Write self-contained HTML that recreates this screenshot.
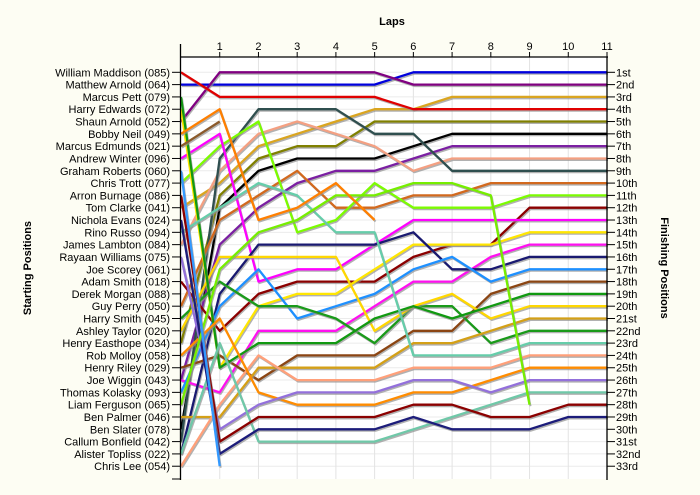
<!DOCTYPE html>
<html><head><meta charset="utf-8"><style>
html,body{margin:0;padding:0;background:#FDFDF3;}
svg{display:block;font-family:"Liberation Sans",Tahoma,sans-serif;}
</style></head><body>
<svg id="chart" width="700" height="495" viewBox="0 0 700 495" xmlns="http://www.w3.org/2000/svg">
<rect x="0" y="0" width="700" height="495" fill="#FDFDF3"/>
<rect x="181" y="57" width="426" height="422" fill="#FFFFFF"/>
<g id="grid"></g>
<g id="series"></g>
<g id="axes"></g>
<text x="392" y="25" text-anchor="middle" font-size="11" font-weight="bold">Laps</text>
<text x="0" y="0" transform="translate(31,268) rotate(-90)" text-anchor="middle" font-size="11" font-weight="bold">Starting Positions</text>
<text x="0" y="0" transform="translate(661,268) rotate(90)" text-anchor="middle" font-size="11" font-weight="bold">Finishing Positions</text>
</svg>
<script>
const laps = [0,1,2,3,4,5,6,7,8,9,10,11];
const startNames = ["William Maddison (085)","Matthew Arnold (064)","Marcus Pett (079)","Harry Edwards (072)","Shaun Arnold (052)","Bobby Neil (049)","Marcus Edmunds (021)","Andrew Winter (096)","Graham Roberts (060)","Chris Trott (077)","Arron Burnage (086)","Tom Clarke (041)","Nichola Evans (024)","Rino Russo (094)","James Lambton (084)","Rayaan Williams (075)","Joe Scorey (061)","Adam Smith (018)","Derek Morgan (088)","Guy Perry (050)","Harry Smith (045)","Ashley Taylor (020)","Henry Easthope (034)","Rob Molloy (058)","Henry Riley (029)","Joe Wiggin (043)","Thomas Kolasky (093)","Liam Ferguson (065)","Ben Palmer (046)","Ben Slater (078)","Callum Bonfield (042)","Alister Topliss (022)","Chris Lee (054)"];
const finishLabels = ["1st","2nd","3rd","4th","5th","6th","7th","8th","9th","10th","11th","12th","13th","14th","15th","16th","17th","18th","19th","20th","21st","22nd","23rd","24th","25th","26th","27th","28th","29th","30th","31st","32nd","33rd"];
const seriesColors = ["#0000DD","#800080","#DAA520","#E00000","#808000","#000000","#7B1FA2","#F4A082","#2F4F4F","#D2691E","#7CFC00","#8B0000","#FF00FF","#FFE600","#FF10F0","#191970","#1E90FF","#8B4513","#1A9A1A","#FFD700","#D4A017","#119911","#66CDAA","#FFA07A","#FF8C00","#9370DB","#6FC8A8","#8B0000","#1C1C7A","#76EE00","#FF7F00","#8B5A2B","#3399FF"];
const sBlue=[2,2,2,2,2,2,1,1,1,1,1,1];
const sPurple=[5,1,1,1,1,1,2,2,2,2,2,2];
const sGold=[12,10,7,6,5,4,4,3,3,3,3,3];
const sRed=[1,3,3,3,3,3,4,4,4,4,4,4];
const sOlive=[23,11,8,7,7,5,5,5,5,5,5,5];
const sBlack=[30,12,9,8,8,8,7,6,6,6,6,6];
const sPurple2=[26,15,12,10,9,9,8,7,7,7,7,7];
const sSalmon=[15,9,6,5,6,7,9,8,8,8,8,8];
const sSlate=[31,8,4,4,4,6,6,9,9,9,9,9];
const sChoc=[20,13,11,9,12,12,11,11,10,10,10,10];
const sLimeB=[10,7,5,14,13,10,12,12,12,11,11,11];
const sDarkRed=[18,22,19,18,18,18,16,15,15,12,12,12];
const sMagenta=[8,6,18,17,17,15,13,13,13,13,13,13];
const sYellowY=[4,25,20,19,19,17,15,15,15,14,14,14];
const sMagenta2=[26,27,22,22,22,20,18,18,16,15,15,15];
const sNavy=[32,19,15,15,15,15,14,17,17,16,16,16];
const sDodger=[27,20,17,21,20,19,17,16,18,17,17,17];
const sBrown=[25,24,26,24,24,24,22,22,19,18,18,18];
const sGreen1=[21,18,20,20,21,23,20,20,23,22,22,22];
const sYellowX=[22,16,16,16,16,22,20,19,21,20,20,20];
const sGold2=[29,29,25,25,25,25,23,23,22,21,21,21];
const sGreen2=[3,25,23,23,23,21,20,21,20,19,19,19];
const sAqua=[14,12,10,11,14,14,24,24,24,23,23,23];
const sLSalmon=[33,28,24,26,26,26,25,25,25,24,24,24];
const sOrange=[24,21,27,28,28,28,27,27,26,25,25,25];
const sMPurple=[16,30,28,27,27,27,26,26,27,26,26,26];
const sAqua2=[32,23,31,31,31,31,30,29,28,27,27,27];
const sDarkRed2=[11,31,29,29,29,29,28,28,29,29,28,28];
const sNavy2=[13,32,30,30,30,30,29,30,30,30,29,29];
const sLimeA=[28,17,14,13,11,11,10,10,11,28];
const sOrangeR=[6,4,13,12,10,13];
const sBrownR=[7,5];
const sLightBlueR=[9,33];
const allSeries=[sBlue,sPurple,sGold,sRed,sOlive,sBlack,sPurple2,sSalmon,sSlate,sChoc,sLimeB,sDarkRed,sMagenta,sYellowY,sMagenta2,sNavy,sDodger,sBrown,sGreen1,sYellowX,sGold2,sGreen2,sAqua,sLSalmon,sOrange,sMPurple,sAqua2,sDarkRed2,sNavy2,sLimeA,sOrangeR,sBrownR,sLightBlueR];

const NS="http://www.w3.org/2000/svg";
const X0=181, X1=607, Y0=72.3, DY=12.31;
function xScale(l){return X0+(X1-X0)*l/11;}
function yScale(p){return Y0+(p-1)*DY;}
function mk(tag,attrs,parent){const e=document.createElementNS(NS,tag);for(const k in attrs)e.setAttribute(k,attrs[k]);parent.appendChild(e);return e;}
const grid=document.getElementById('grid'), ser=document.getElementById('series'), axes=document.getElementById('axes');
for(let p=1;p<=33;p++){const y=yScale(p);const g=mk('line',{x1:X0,x2:X1,y1:y,y2:y,stroke:'#EBEBEB','stroke-width':1},grid);

}
laps.forEach(l=>{if(l===0)return;const x=xScale(l);const g=mk('line',{x1:x,x2:x,y1:57,y2:479,stroke:'#E3E3E3','stroke-width':1},grid);

});
allSeries.forEach((s,i)=>{
  const pts=s.map((p,l)=>xScale(l).toFixed(1)+','+yScale(p).toFixed(1)).join(' ');
  const sh=mk('polyline',{points:s.map((p,l)=>(xScale(l)+1).toFixed(1)+','+(yScale(p)+1.5).toFixed(1)).join(' '),fill:'none',stroke:'#909090','stroke-width':2,'stroke-linejoin':'round','opacity':0.7},ser);
  
  
  const ln=mk('polyline',{points:pts,fill:'none',stroke:seriesColors[i],'stroke-width':2.3,'stroke-linejoin':'round'},ser);
  
  
});
let a=mk('line',{x1:X0-0.5,x2:X0-0.5,y1:44,y2:480,stroke:'#000','stroke-width':1.3},axes);


a=mk('line',{x1:X1,x2:X1,y1:57,y2:480,stroke:'#000','stroke-width':1.3},axes);


a=mk('line',{x1:X0-1,x2:X1+1,y1:57,y2:57,stroke:'#000','stroke-width':1.3},axes);


a=mk('line',{x1:X0-9,x2:X0,y1:479,y2:479,stroke:'#000','stroke-width':1},axes);


laps.forEach(l=>{if(l===0)return;const x=xScale(l);
  const t=mk('line',{x1:x,x2:x,y1:52,y2:57,stroke:'#000','stroke-width':1},axes);
  
  
  const tx=mk('text',{x:x,y:50,'text-anchor':'middle','font-size':11},axes);tx.textContent=l;
  
  });
startNames.forEach((n,i)=>{const y=yScale(i+1);
  const t=mk('line',{x1:X0-9,x2:X0,y1:y,y2:y,stroke:'#000','stroke-width':1},axes);
  
  
  const tx=mk('text',{x:X0-11,y:y+4,'text-anchor':'end','font-size':11},axes);tx.textContent=n;
  
  });
finishLabels.forEach((n,i)=>{const y=yScale(i+1);
  const t=mk('line',{x1:X1,x2:X1+8,y1:y,y2:y,stroke:'#000','stroke-width':1},axes);
  
  
  const tx=mk('text',{x:X1+9,y:y+4,'text-anchor':'start','font-size':11},axes);tx.textContent=n;
  
  });
</script>
</body></html>
